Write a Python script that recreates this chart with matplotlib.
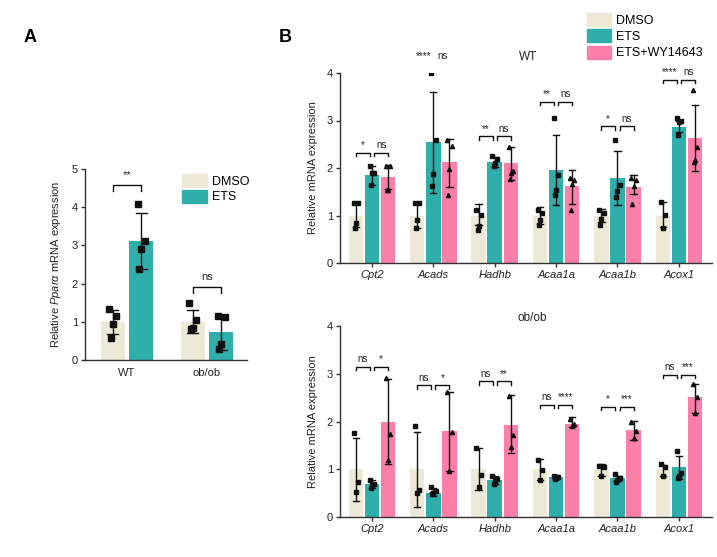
import matplotlib
matplotlib.use("Agg")
import matplotlib.pyplot as plt
import matplotlib.patches as patches

plt.rcParams['font.family'] = ['Liberation Sans', 'DejaVu Sans']
plt.rcParams['mathtext.fontset'] = 'custom'
plt.rcParams['mathtext.it'] = 'Liberation Sans:italic'
plt.rcParams['mathtext.rm'] = 'Liberation Sans'

C_DMSO = '#ECE9D6'
C_ETS = '#2FAEAC'
C_WY = '#FB7FA8'

# ---------------- Panel A data ----------------
a_groups = ["WT", "ob/ob"]
a_dmso_mean = [1.0, 1.0]
a_ets_mean = [3.12, 0.74]
a_dmso_err = [(0.68, 1.32), (0.70, 1.31)]
a_ets_err = [(2.38, 3.85), (0.26, 1.12)]
a_dmso_pts = [[1.33, 1.14, 0.94, 0.57], [1.48, 1.05, 0.85, 0.80]]
a_ets_pts = [[4.08, 3.12, 2.90, 2.38], [1.15, 1.13, 0.43, 0.28]]
a_sig = ["**", "ns"]
a_sig_y = [4.58, 1.91]

# ---------------- Panel B data ----------------
genes = ["Cpt2", "Acads", "Hadhb", "Acaa1a", "Acaa1b", "Acox1"]

wt_mean = {
    "DMSO": [1.0, 1.0, 1.0, 1.0, 1.0, 1.0],
    "ETS": [1.86, 2.54, 2.12, 1.96, 1.80, 2.87],
    "WY": [1.82, 2.12, 2.10, 1.62, 1.60, 2.64],
}
wt_err = {
    "DMSO": [(0.75, 1.27), (0.73, 1.27), (0.80, 1.24), (0.82, 1.17), (0.87, 1.13), (0.75, 1.28)],
    "ETS": [(1.65, 2.05), (1.47, 3.60), (2.02, 2.24), (1.23, 2.70), (1.23, 2.35), (2.75, 2.98)],
    "WY": [(1.55, 2.07), (1.60, 2.62), (1.75, 2.44), (1.25, 1.95), (1.45, 1.85), (1.94, 3.33)],
}
wt_pts = {
    "DMSO": [[1.27, 1.27, 0.84, 0.74], [1.27, 1.27, 0.90, 0.73], [1.12, 1.02, 0.78, 0.70],
             [1.12, 1.05, 0.90, 0.79], [1.12, 1.05, 0.92, 0.79], [1.29, 1.01, 0.74]],
    "ETS": [[2.05, 1.90, 1.90, 1.65], [4.00, 2.58, 1.87, 1.63], [2.26, 2.20, 2.10, 2.05],
            [3.05, 1.85, 1.54, 1.43], [2.60, 1.64, 1.52, 1.38], [3.06, 2.98, 2.96, 2.70]],
    "WY": [[2.05, 2.05, 1.53, 1.53], [2.60, 2.46, 1.98, 1.43], [2.44, 1.93, 1.90, 1.77],
           [1.78, 1.75, 1.66, 1.12], [1.78, 1.74, 1.62, 1.24], [3.64, 2.45, 2.17, 2.13]],
}
wt_sig = [("*", "ns"), ("****", "ns"), ("**", "ns"), ("**", "ns"), ("*", "ns"), ("****", "ns")]
wt_sig_y = [2.32, 4.21, 2.67, 3.40, 2.88, 3.86]

ob_mean = {
    "DMSO": [1.0, 1.0, 1.0, 1.0, 1.0, 1.0],
    "ETS": [0.70, 0.50, 0.77, 0.84, 0.82, 1.04],
    "WY": [2.00, 1.80, 1.92, 1.94, 1.83, 2.52],
}
ob_err = {
    "DMSO": [(0.33, 1.65), (0.20, 1.79), (0.57, 1.45), (0.78, 1.22), (0.85, 1.11), (0.85, 1.09)],
    "ETS": [(0.60, 0.78), (0.45, 0.60), (0.70, 0.85), (0.80, 0.87), (0.75, 0.85), (0.80, 1.27)],
    "WY": [(1.12, 2.90), (0.97, 2.62), (1.35, 2.55), (1.88, 2.10), (1.62, 2.02), (2.18, 2.79)],
}
ob_pts = {
    "DMSO": [[1.75, 0.74, 0.52], [1.90, 0.57, 0.50], [1.45, 0.88, 0.62],
             [1.20, 0.98, 0.78], [1.07, 1.05, 0.85], [1.10, 1.05, 0.85]],
    "ETS": [[0.77, 0.70, 0.68, 0.60], [0.63, 0.55, 0.50, 0.48], [0.85, 0.80, 0.75, 0.70],
            [0.86, 0.84, 0.82, 0.80], [0.90, 0.82, 0.78, 0.74], [1.38, 0.92, 0.85, 0.82]],
    "WY": [[2.92, 1.73, 1.20], [2.62, 1.78, 0.97], [2.53, 1.72, 1.47],
           [2.05, 1.95, 1.90], [2.00, 1.80, 1.65], [2.78, 2.52, 2.18]],
}
ob_sig = [("ns", "*"), ("ns", "*"), ("ns", "**"), ("ns", "****"), ("*", "***"), ("ns", "***")]
ob_sig_y = [3.15, 2.76, 2.84, 2.35, 2.31, 2.98]

JIT = [-0.04, 0.04, 0.0, -0.02, 0.02]


def style_axis(ax):
    for s in ["top", "right"]:
        ax.spines[s].set_visible(False)
    for s in ["left", "bottom"]:
        ax.spines[s].set_color('#333333')
        ax.spines[s].set_linewidth(1.0)
    ax.tick_params(axis='both', colors='#333333', labelcolor='#222222',
                   length=3, width=1.0, labelsize=8, pad=2)


def bar_with_points(ax, x, w, mean, err, pts, color, marker, ms, jit_scale):
    ax.bar(x, mean, width=w, color=color, edgecolor='none', zorder=1)
    lo, hi = err
    ax.plot([x, x], [lo, hi], color='#111111', lw=1.0, zorder=3)
    for yv in (lo, hi):
        ax.plot([x - w * 0.22, x + w * 0.22], [yv, yv], color='#111111', lw=1.0, zorder=3)
    for i, p in enumerate(pts):
        ax.plot(x + JIT[i % len(JIT)] * jit_scale, p, marker=marker, color='#111111',
                ms=ms, ls='none', zorder=4)


def bracket(ax, x0, x1, y, h, lw=1.0):
    ax.plot([x0, x0, x1, x1], [y - h, y, y, y - h], color='#111111', lw=lw, zorder=5)


fig = plt.figure(figsize=(7.17, 5.57), dpi=100)
W, H = 717.0, 557.0


def px_axes(l, t, r, b):
    return fig.add_axes([l / W, 1 - b / H, (r - l) / W, (b - t) / H])


# ---------------- Panel A ----------------
axA = px_axes(85, 169, 247, 360)
wA = 0.30
offA = 0.178
for g in range(2):
    bar_with_points(axA, g - offA, wA, a_dmso_mean[g], a_dmso_err[g], a_dmso_pts[g],
                    C_DMSO, 's', 4.6, 1.1)
    bar_with_points(axA, g + offA, wA, a_ets_mean[g], a_ets_err[g], a_ets_pts[g],
                    C_ETS, 's', 4.6, 1.1)
    bracket(axA, g - offA, g + offA, a_sig_y[g], 0.15)
    axA.text(g, a_sig_y[g] + 0.12, a_sig[g], ha='center', va='bottom', fontsize=8,
             color='#222222')
axA.set_xlim(-0.525, 1.5)
axA.set_ylim(0, 5)
axA.set_yticks([0, 1, 2, 3, 4, 5])
axA.set_xticks([0, 1])
axA.set_xticklabels(a_groups)
style_axis(axA)
axA.tick_params(axis='x', length=0, pad=6)
axA.set_ylabel(r'Relative $\mathit{Ppar\alpha}$ mRNA expression', fontsize=8,
               color='#222222', labelpad=6)
legA = [patches.Patch(color=C_DMSO), patches.Patch(color=C_ETS)]
fig.legend(legA, ["DMSO", "ETS"], loc='upper left', bbox_to_anchor=(182 / W, 1 - 174 / H),
           frameon=False, fontsize=9, handlelength=2.0, handleheight=1.25,
           labelspacing=0.15, handletextpad=0.4, borderpad=0, borderaxespad=0)

# ---------------- Panel B ----------------
wB = 0.236
offB = 0.262
keys = ["DMSO", "ETS", "WY"]
colors = [C_DMSO, C_ETS, C_WY]
markers = ['s', 's', '^']


def draw_panel(ax, mean, err, pts, sig, sig_y):
    for g in range(len(genes)):
        for k, key in enumerate(keys):
            x = g + (k - 1) * offB
            bar_with_points(ax, x, wB, mean[key][g], err[key][g], pts[key][g],
                            colors[k], markers[k], 3.0, 0.9)
        y = sig_y[g]
        bracket(ax, g - offB, g - 0.035, y, 0.07)
        bracket(ax, g + 0.035, g + offB, y, 0.07)
        ax.text(g - offB / 2 - 0.02, y + 0.05, sig[g][0], ha='center', va='bottom',
                fontsize=7, color='#222222')
        ax.text(g + offB / 2 + 0.02, y + 0.05, sig[g][1], ha='center', va='bottom',
                fontsize=7, color='#222222')
    ax.set_xlim(-0.52, 5.54)
    ax.set_ylim(0, 4)
    ax.set_yticks([0, 1, 2, 3, 4])
    ax.set_xticks(range(len(genes)))
    ax.set_xticklabels(genes, fontstyle='italic')
    style_axis(ax)
    ax.tick_params(axis='x', length=3, pad=2)
    ax.set_ylabel('Relative mRNA expression', fontsize=8, color='#222222', labelpad=6)


axT = px_axes(340, 73, 712, 263)
draw_panel(axT, wt_mean, wt_err, wt_pts, wt_sig, wt_sig_y)
axB = px_axes(340, 326, 712, 517)
draw_panel(axB, ob_mean, ob_err, ob_pts, ob_sig, ob_sig_y)

fig.text(528 / W, 1 - 57 / H, "WT", ha='center', va='center', fontsize=8.5, color='#222222')
fig.text(532 / W, 1 - 318 / H, "ob/ob", ha='center', va='center', fontsize=8.5, color='#222222')

legB = [patches.Patch(color=c) for c in colors]
fig.legend(legB, ["DMSO", "ETS", "ETS+WY14643"], loc='upper left',
           bbox_to_anchor=(587 / W, 1 - 13 / H), frameon=False, fontsize=9,
           handlelength=1.9, handleheight=1.2, labelspacing=0.22, handletextpad=0.45,
           borderpad=0, borderaxespad=0)

fig.text(30 / W, 1 - 38 / H, "A", ha='center', va='center', fontsize=13, fontweight='bold')
fig.text(285 / W, 1 - 38 / H, "B", ha='center', va='center', fontsize=13, fontweight='bold')

fig.savefig("out.png", dpi=100)
